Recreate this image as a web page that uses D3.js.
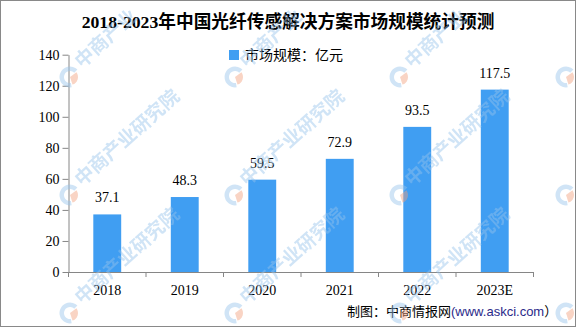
<!DOCTYPE html>
<html><head><meta charset="utf-8">
<script src="https://cdn.jsdelivr.net/npm/d3@7"></script>
<style>html,body{margin:0;padding:0;background:#fff;overflow:hidden}</style>
</head><body>
<svg id="c" width="576" height="327"></svg>
<script>
const categories = ["2018","2019","2020","2021","2022","2023E"];
const values = [37.1, 48.3, 59.5, 72.9, 93.5, 117.5];
const yTicks = [0,20,40,60,80,100,120,140];
const titleText = "2018-2023年中国光纤传感解决方案市场规模统计预测";
const legendText = "市场规模：亿元";
const sourceText = "制图：中商情报网";
const sourceUrl = "(www.askci.com";
const sourceEnd = "）";
const watermarkText = "中商产业研究院";

const svg = d3.select("#c");
const serif = "'Liberation Serif','Noto Sans CJK SC',serif";
const cjk = "'Noto Sans CJK SC',sans-serif";
const barColor = "#409ef2";
const axisColor = "#868686";

svg.append("rect").attr("x",0).attr("y",0).attr("width",576).attr("height",327).attr("fill","#fff");

const x = d3.scaleBand().domain(categories).range([68.5,533.5]).paddingInner(0.64).paddingOuter(0.32);
const y = d3.scaleLinear().domain([0,140]).range([272,54.7]);

// Title
svg.append("text").attr("x",288).attr("y",28).attr("text-anchor","middle")
  .attr("font-family",serif).attr("font-weight","bold").attr("font-size",17.7).attr("fill","#000")
  .text(titleText);

// Legend
svg.append("rect").attr("x",229).attr("y",50).attr("width",10).attr("height",10).attr("fill",barColor);
svg.append("text").attr("x",245).attr("y",60).attr("font-family",cjk).attr("font-size",14).attr("fill","#000").text(legendText);

// Y axis
const yAxis = svg.append("g").attr("transform","translate(68.5,0)")
  .call(d3.axisLeft(y).tickValues(yTicks).tickSize(6).tickSizeOuter(0).tickPadding(3));
yAxis.selectAll("path,line").attr("stroke",axisColor);
yAxis.selectAll("text").attr("font-family",serif).attr("font-size",14).attr("fill","#000");

// X axis
const xAxis = svg.append("g").attr("transform","translate(0,272)")
  .call(d3.axisBottom(x).tickSize(0).tickSizeOuter(0).tickPadding(13));
xAxis.select("path").attr("stroke",axisColor);
xAxis.selectAll("text").attr("font-family",serif).attr("font-size",14).attr("fill","#000");
const step = x.step();
const bounds = categories.map(c => x(c) - x.paddingInner()*step/2).concat([x(categories[categories.length-1]) + x.bandwidth() + x.paddingInner()*step/2]);
xAxis.selectAll("line.bt").data(bounds).enter().append("line").attr("class","bt")
  .attr("x1",d=>d).attr("x2",d=>d).attr("y1",0).attr("y2",5).attr("stroke",axisColor);

// Bars
svg.append("g").selectAll("rect").data(values).enter().append("rect")
  .attr("x",(d,i)=>x(categories[i])).attr("width",x.bandwidth())
  .attr("y",d=>y(d)).attr("height",d=>y(0)-y(d)).attr("fill",barColor);

// Value labels
svg.append("g").selectAll("text").data(values).enter().append("text")
  .attr("x",(d,i)=>x(categories[i])+x.bandwidth()/2).attr("y",d=>y(d)-12)
  .attr("text-anchor","middle").attr("font-family",serif).attr("font-size",14).attr("fill","#000")
  .text(d=>d.toFixed(1));

// Source
const src = svg.append("text").attr("x",347).attr("y",316).attr("font-size",13);
src.append("tspan").attr("font-family",cjk).attr("fill","#000").text(sourceText);
src.append("tspan").attr("font-family","'Liberation Sans',Arial,sans-serif").attr("fill","#2b2a8a").text(sourceUrl);
src.append("tspan").attr("font-family",cjk).attr("fill","#000").text(sourceEnd);

// Watermarks (per character, only glyphs fully inside the picture)
const wm = svg.append("g").attr("opacity",0.45);
const cols = [-95,70,235,400,566];
const rows = [-41,77,195,313];
const arcBlue = d3.arc().innerRadius(6).outerRadius(10.5).startAngle(Math.PI*0.95).endAngle(Math.PI*2.25);
const arcPink = d3.arc().innerRadius(0).outerRadius(8).startAngle(Math.PI*0.3).endAngle(Math.PI*0.9);
const A = -42*Math.PI/180, ca = Math.cos(A), sa = Math.sin(A), fs = 19;
const chars = Array.from(watermarkText);
rows.forEach(ry => cols.forEach(cx => {
  const g = wm.append("g").attr("transform",`translate(${cx},${ry})`);
  g.append("path").attr("d",arcBlue()).attr("fill","#96c3eb");
  g.append("path").attr("d",arcPink()).attr("fill","#f2a07c");
  chars.forEach((ch,i) => {
    const ox = cx + 12 + i*fs*ca, oy = ry - 8 + i*fs*sa;
    const corners = [[0,-17],[fs,-17],[0,3],[fs,3]].map(([lx,ly]) => [ox + lx*ca - ly*sa, oy + lx*sa + ly*ca]);
    if (corners.every(([px,py]) => px>1 && px<575 && py>1 && py<326)) {
      wm.append("text").attr("transform",`translate(${ox},${oy}) rotate(-42)`)
        .attr("font-family",cjk).attr("font-weight","bold").attr("font-size",fs)
        .attr("fill","#96c3eb").text(ch);
    }
  });
}));

// Border
svg.append("rect").attr("x",0.5).attr("y",0.5).attr("width",575).attr("height",326)
  .attr("fill","none").attr("stroke","#898989");
</script>
</body></html>
